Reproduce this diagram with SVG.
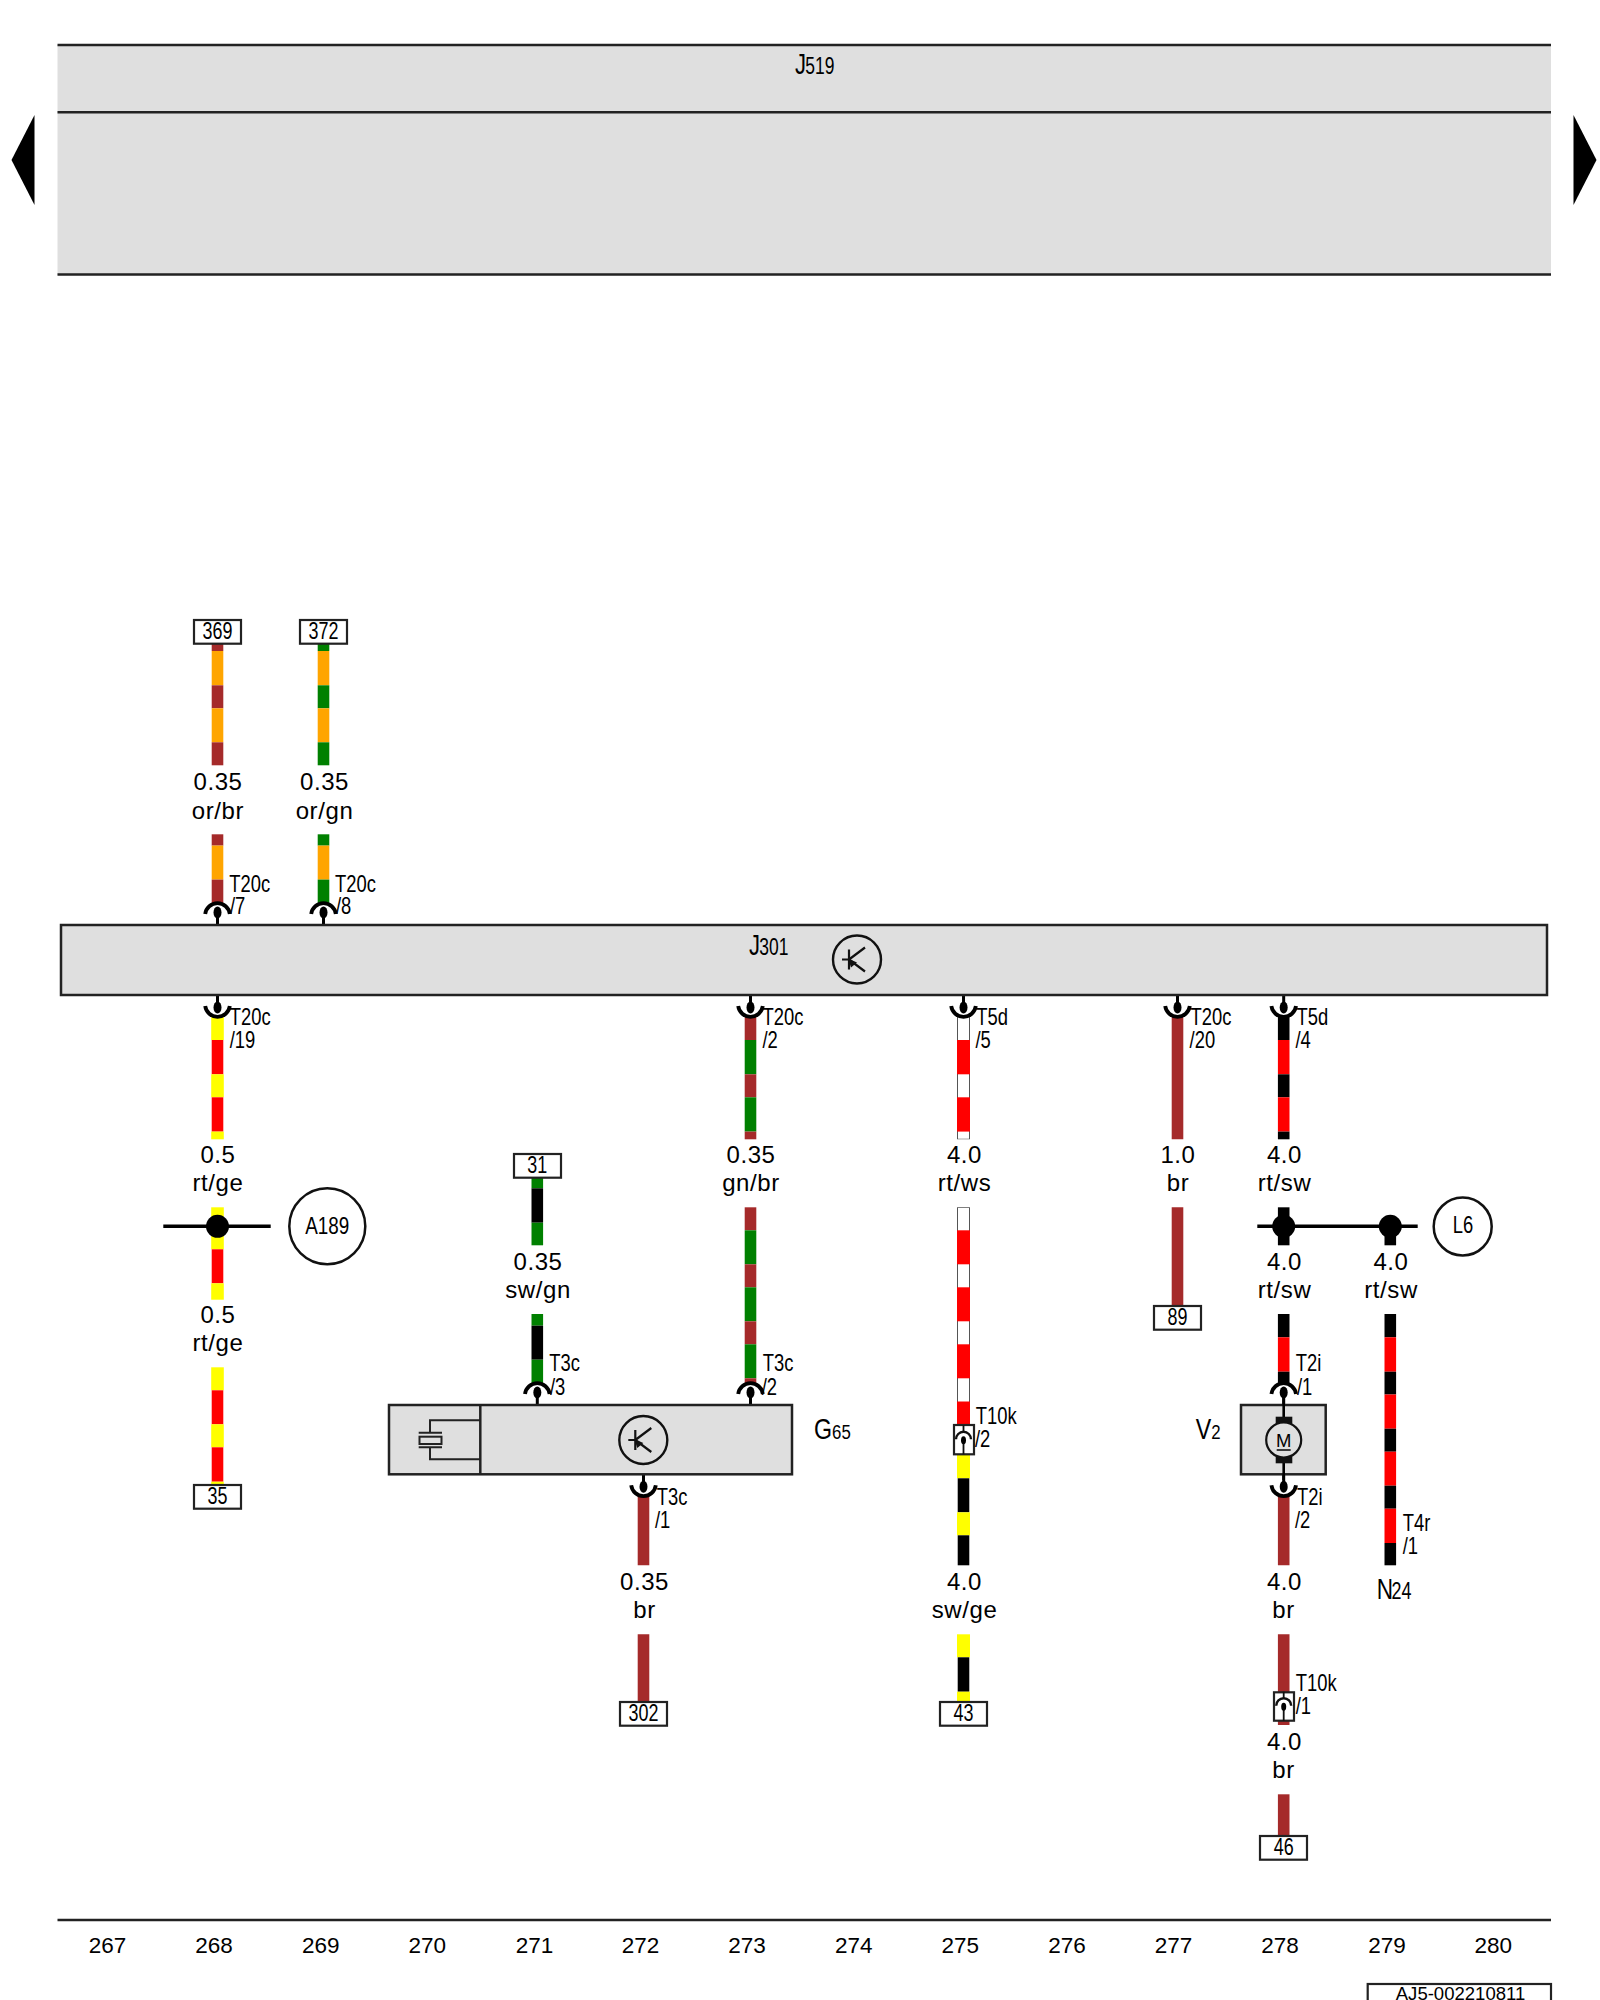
<svg xmlns="http://www.w3.org/2000/svg" xmlns:xlink="http://www.w3.org/1999/xlink" width="1600" height="2000" viewBox="0 0 1600 2000">
<style>
text{font-family:"Liberation Sans",Arial,sans-serif;fill:#000}
.lbl{font-size:24px;letter-spacing:.6px;text-anchor:middle}
.num{font-size:22.5px;text-anchor:middle}
.t{font-size:23px}
.n{font-size:23px;text-anchor:middle}
.big{font-size:29px}
.sm{font-size:21px}
.md{font-size:23px}
.box{fill:#dfdfdf;stroke:#222;stroke-width:2.5}
.ln{fill:none;stroke:#222;stroke-width:2.5}
.thin{fill:none;stroke:#222;stroke-width:2}
.tag{fill:#fff;stroke:#222;stroke-width:2.2}
.bus{fill:none;stroke:#000;stroke-width:3.5}
.wire path{fill:none;stroke-width:11.6}
.wire path.o{stroke:#ffa500}
.wire path.b{stroke:#a52a2a}
.wire path.g{stroke:#008000}
.wire path.r{stroke:#ff0000}
.wire path.y{stroke:#ffff00;stroke-width:12.6}
.wire path.k{stroke:#000}
.wire path.we{stroke:#555;stroke-width:13}
.wire path.w{stroke:#fff;stroke-width:11}
.wire path.wide{stroke-width:13}
</style>
<defs>
<g id="plug">
<path d="M-12.300-11A12.400 12.400 0 0 1 12.300-11" fill="none" stroke="#000" stroke-width="3.800"/>
<ellipse cx="0" cy="-12.500" rx="4" ry="6" fill="#000"/>
<path d="M0-8V0" stroke="#000" stroke-width="3"/>
</g>
<g id="miniplug">
<path d="M-7.500-15A7.500 7.500 0 0 1 7.500-15" fill="none" stroke="#111" stroke-width="2.400"/>
<path d="M0-29V-22M0-12V0" stroke="#111" stroke-width="1.800"/>
<ellipse cx="0" cy="-14" rx="2.500" ry="4" fill="#000"/>
</g>
<g id="transistor">
<circle r="24" fill="none" stroke="#111" stroke-width="2.400"/>
<path d="M-8-10V10M-15 0H-8M-8 0L8-12M-8 0L8 12" fill="none" stroke="#111" stroke-width="2.200"/>
<polygon points="-9,-1 0,3 -6,8" fill="#111"/>
</g>
</defs>

<g id="panel-J519">
<rect x="57.500" y="45" width="1493.500" height="230" fill="#dfdfdf"/>
<path class="ln" d="M57.500 45H1551M57.500 112.300H1551M57.500 274.500H1551"/>
<text transform="translate(795,74.300) scale(.76,1)"><tspan class="big">J</tspan><tspan class="md" dx="-1">519</tspan></text>
</g>
<polygon id="nav-left" points="34.500,115 34.500,205 11.500,160" fill="#000"/>
<polygon id="nav-right" points="1573.500,115 1573.500,205 1596.500,160" fill="#000"/>

<g id="connectors">
<g class="wire">
<path class="b" d="M217.500 643.700V651"/><path class="o" d="M217.500 651V685.300"/><path class="b" d="M217.500 685.300V708.300"/><path class="o" d="M217.500 708.300V742.300"/><path class="b" d="M217.500 742.300V765.300"/>
<path class="b" d="M217.500 834.300V845.600"/><path class="o" d="M217.500 845.600V879.600"/><path class="b" d="M217.500 879.600V903"/>
<path class="g" d="M323.500 643.700V651"/><path class="o" d="M323.500 651V685.300"/><path class="g" d="M323.500 685.300V708.300"/><path class="o" d="M323.500 708.300V742.300"/><path class="g" d="M323.500 742.300V765.300"/>
<path class="g" d="M323.500 834.300V845.600"/><path class="o" d="M323.500 845.600V879.600"/><path class="g" d="M323.500 879.600V903"/>

<path class="y" d="M217.500 1016V1040"/><path class="r" d="M217.500 1040V1074.300"/><path class="y" d="M217.500 1074.300V1097.300"/><path class="r" d="M217.500 1097.300V1131.600"/><path class="y" d="M217.500 1131.600V1139.300"/>
<path class="y" d="M217.500 1207.300V1249.300"/><path class="r" d="M217.500 1249.300V1283.300"/><path class="y" d="M217.500 1283.300V1299.700"/>
<path class="y" d="M217.500 1367.300V1390.300"/><path class="r" d="M217.500 1390.300V1424.300"/><path class="y" d="M217.500 1424.300V1447.300"/><path class="r" d="M217.500 1447.300V1481.700"/><path class="y" d="M217.500 1481.700V1485"/>

<path class="g" d="M537.300 1178V1188.300"/><path class="k" d="M537.300 1188.300V1222.700"/><path class="g" d="M537.300 1222.700V1245.300"/>
<path class="g" d="M537.300 1314V1325.700"/><path class="k" d="M537.300 1325.700V1359.700"/><path class="g" d="M537.300 1359.700V1383"/>

<path class="b" d="M643.500 1495V1565.300"/><path class="b" d="M643.500 1634.300V1702"/>

<path class="b" d="M750.500 1016V1040"/><path class="g" d="M750.500 1040V1074.300"/><path class="b" d="M750.500 1074.300V1097.300"/><path class="g" d="M750.500 1097.300V1131.600"/><path class="b" d="M750.500 1131.600V1139.300"/>
<path class="b" d="M750.500 1207.300V1230.300"/><path class="g" d="M750.500 1230.300V1264.300"/><path class="b" d="M750.500 1264.300V1287.300"/><path class="g" d="M750.500 1287.300V1321.300"/><path class="b" d="M750.500 1321.300V1344.300"/><path class="g" d="M750.500 1344.300V1378.300"/><path class="b" d="M750.500 1378.300V1383"/>

<path class="we" d="M963.500 1016V1139.300"/><path class="w" d="M963.500 1016V1138.700"/><path class="r wide" d="M963.500 1040V1074.300"/><path class="r wide" d="M963.500 1097.300V1131.600"/>
<path class="we" d="M963.500 1207.300V1425"/><path class="w" d="M963.500 1208V1425"/><path class="r wide" d="M963.500 1230.300V1264.300"/><path class="r wide" d="M963.500 1287.300V1321.300"/><path class="r wide" d="M963.500 1344.300V1378.300"/><path class="r wide" d="M963.500 1401.500V1425"/>
<path class="y wide" d="M963.500 1454V1478.300"/><path class="k" d="M963.500 1478.300V1512.300"/><path class="y wide" d="M963.500 1512.300V1535.300"/><path class="k" d="M963.500 1535.300V1565.300"/>
<path class="y wide" d="M963.500 1634.300V1657.300"/><path class="k" d="M963.500 1657.300V1691.700"/><path class="y wide" d="M963.500 1691.700V1702"/>

<path class="b" d="M1177.500 1016V1139.300"/><path class="b" d="M1177.500 1207.300V1306"/>

<path class="k" d="M1283.700 1016V1040"/><path class="r" d="M1283.700 1040V1074.300"/><path class="k" d="M1283.700 1074.300V1097.300"/><path class="r" d="M1283.700 1097.300V1131.600"/><path class="k" d="M1283.700 1131.600V1139.300"/>
<path class="k" d="M1283.700 1207.300V1245.300"/>
<path class="k" d="M1283.700 1314V1337.300"/><path class="r" d="M1283.700 1337.300V1371.700"/><path class="k" d="M1283.700 1371.700V1383"/>
<path class="b" d="M1283.700 1495V1565.300"/>
<path class="b" d="M1283.700 1634.300V1725"/>
<path class="b" d="M1283.700 1794.300V1836"/>

<path class="k" d="M1390.300 1226V1245.300"/>
<path class="k" d="M1390.300 1314V1337.300"/><path class="r" d="M1390.300 1337.300V1371.700"/><path class="k" d="M1390.300 1371.700V1394.500"/><path class="r" d="M1390.300 1394.500V1428.700"/><path class="k" d="M1390.300 1428.700V1451.700"/><path class="r" d="M1390.300 1451.700V1485.700"/><path class="k" d="M1390.300 1485.700V1508.700"/><path class="r" d="M1390.300 1508.700V1543"/><path class="k" d="M1390.300 1543V1565.300"/>
</g>
<path class="bus" d="M163.300 1226.300H270.700"/>
<path class="bus" d="M1257.300 1226.300H1417.700"/>
<use xlink:href="#plug" href="#plug" transform="translate(217.500,925)"/>
<use xlink:href="#plug" href="#plug" transform="translate(323.500,925)"/>
<use xlink:href="#plug" href="#plug" transform="translate(217.500,995) scale(1,-1)"/>
<use xlink:href="#plug" href="#plug" transform="translate(750.500,995) scale(1,-1)"/>
<use xlink:href="#plug" href="#plug" transform="translate(963.500,995) scale(1,-1)"/>
<use xlink:href="#plug" href="#plug" transform="translate(1177.500,995) scale(1,-1)"/>
<use xlink:href="#plug" href="#plug" transform="translate(1283.700,995) scale(1,-1)"/>
<use xlink:href="#plug" href="#plug" transform="translate(537.300,1405)"/>
<use xlink:href="#plug" href="#plug" transform="translate(750.500,1405)"/>
<use xlink:href="#plug" href="#plug" transform="translate(1283.700,1405)"/>
<use xlink:href="#plug" href="#plug" transform="translate(643.500,1474.300) scale(1,-1)"/>
<use xlink:href="#plug" href="#plug" transform="translate(1283.700,1474.300) scale(1,-1)"/>
</g>

<g id="J301">
<rect class="box" x="61" y="925" width="1486" height="70"/>
<text transform="translate(749,955) scale(.76,1)"><tspan class="big">J</tspan><tspan class="md" dx="-1">301</tspan></text>
<use xlink:href="#transistor" href="#transistor" transform="translate(857,959.500)"/>
</g>

<g id="G65">
<rect class="box" x="389" y="1405" width="403" height="69.300"/>
<path class="ln" d="M480.300 1405V1474.300"/>
<path class="thin" d="M480.300 1420.300H430V1432.700M480.300 1459.300H430V1447.300M418.700 1432.700H442M418.700 1447.300H442"/>
<rect class="thin" x="419.500" y="1436.700" width="22" height="7.300"/>
<use xlink:href="#transistor" href="#transistor" transform="translate(643.300,1440)"/>
<text transform="translate(814,1439.300) scale(.8,1)"><tspan class="big">G</tspan><tspan class="sm">65</tspan></text>
</g>

<g id="V2">
<rect class="box" x="1241" y="1405" width="84.700" height="69.300"/>
<path d="M1283.700 1398V1417M1283.700 1463V1480" stroke="#000" stroke-width="2.600"/>
<rect x="1275.700" y="1416.700" width="16.600" height="46.600" fill="#111"/>
<circle cx="1283.700" cy="1440" r="17.500" fill="#dfdfdf" stroke="#111" stroke-width="2.200"/>
<text class="n" style="font-size:18.500px" x="1283.700" y="1446.700">M</text>
<path d="M1276.700 1450H1290.700" stroke="#111" stroke-width="1.600"/>
<text transform="translate(1195.700,1439.300) scale(.8,1)"><tspan class="big">V</tspan><tspan class="sm">2</tspan></text>
</g>

<g id="splice-A189">
<circle cx="217.500" cy="1226.300" r="11.500" fill="#000"/>
<circle cx="327.300" cy="1226.300" r="38" fill="#fff" stroke="#111" stroke-width="2.500"/>
<text class="n" transform="translate(327.300,1233.800) scale(.82,1)">A189</text>
</g>
<g id="splice-L6">
<circle cx="1283.700" cy="1226.300" r="11.500" fill="#000"/>
<circle cx="1390.300" cy="1226.300" r="11.500" fill="#000"/>
<circle cx="1462.700" cy="1226.500" r="29" fill="#fff" stroke="#111" stroke-width="2.500"/>
<text class="n" transform="translate(1463,1233) scale(.8,1)">L6</text>
</g>

<g id="T10k-2">
<rect class="tag" x="954" y="1425" width="20" height="29.300"/>
<use xlink:href="#miniplug" href="#miniplug" transform="translate(963.500,1454.300)"/>
</g>
<g id="T10k-1">
<rect class="tag" x="1274" y="1692.300" width="20" height="28.400"/>
<use xlink:href="#miniplug" href="#miniplug" transform="translate(1283.700,1720.700)"/>
</g>

<g id="ref-369"><rect class="tag" x="194" y="620" width="47" height="23.700"/><text class="n" transform="translate(217.500,639.300) scale(.78,1)">369</text></g>
<g id="ref-372"><rect class="tag" x="300" y="620" width="47" height="23.700"/><text class="n" transform="translate(323.500,639.300) scale(.78,1)">372</text></g>
<g id="ref-35"><rect class="tag" x="194" y="1485" width="47" height="23.700"/><text class="n" transform="translate(217.500,1504.300) scale(.78,1)">35</text></g>
<g id="ref-31"><rect class="tag" x="514" y="1154" width="47" height="23.700"/><text class="n" transform="translate(537.300,1173.300) scale(.78,1)">31</text></g>
<g id="ref-302"><rect class="tag" x="620" y="1702" width="47" height="23.700"/><text class="n" transform="translate(643.500,1721.300) scale(.78,1)">302</text></g>
<g id="ref-43"><rect class="tag" x="940" y="1702" width="47" height="23.700"/><text class="n" transform="translate(963.500,1721.300) scale(.78,1)">43</text></g>
<g id="ref-89"><rect class="tag" x="1154" y="1306" width="47" height="23.700"/><text class="n" transform="translate(1177.500,1325.300) scale(.78,1)">89</text></g>
<g id="ref-46"><rect class="tag" x="1260" y="1836" width="47" height="23.700"/><text class="n" transform="translate(1283.700,1855.300) scale(.78,1)">46</text></g>

<g id="wire-labels">
<text class="lbl" x="218" y="790">0.35</text><text class="lbl" x="218" y="818.500">or/br</text>
<text class="lbl" x="324.500" y="790">0.35</text><text class="lbl" x="324.500" y="818.500">or/gn</text>
<text class="lbl" x="218" y="1163">0.5</text><text class="lbl" x="218" y="1191.300">rt/ge</text>
<text class="lbl" x="218" y="1323">0.5</text><text class="lbl" x="218" y="1351.300">rt/ge</text>
<text class="lbl" x="538" y="1270">0.35</text><text class="lbl" x="538" y="1298">sw/gn</text>
<text class="lbl" x="751" y="1163">0.35</text><text class="lbl" x="751" y="1191.300">gn/br</text>
<text class="lbl" x="964.500" y="1163">4.0</text><text class="lbl" x="964.500" y="1191.300">rt/ws</text>
<text class="lbl" x="1178" y="1163">1.0</text><text class="lbl" x="1178" y="1191.300">br</text>
<text class="lbl" x="1284.500" y="1163">4.0</text><text class="lbl" x="1284.500" y="1191.300">rt/sw</text>
<text class="lbl" x="1284.500" y="1270">4.0</text><text class="lbl" x="1284.500" y="1298">rt/sw</text>
<text class="lbl" x="1391" y="1270">4.0</text><text class="lbl" x="1391" y="1298">rt/sw</text>
<text class="lbl" x="644.500" y="1590">0.35</text><text class="lbl" x="644.500" y="1618">br</text>
<text class="lbl" x="964.500" y="1590">4.0</text><text class="lbl" x="964.500" y="1618">sw/ge</text>
<text class="lbl" x="1284.500" y="1590">4.0</text><text class="lbl" x="1283.500" y="1618">br</text>
<text class="lbl" x="1284.500" y="1750">4.0</text><text class="lbl" x="1283.500" y="1778">br</text>
</g>

<g id="pin-labels">
<text class="t" transform="translate(229.300,891.700) scale(.8,1)">T20c</text><text class="t" transform="translate(230,914) scale(.8,1)">/7</text>
<text class="t" transform="translate(335,891.700) scale(.8,1)">T20c</text><text class="t" transform="translate(336,914) scale(.8,1)">/8</text>
<text class="t" transform="translate(229.700,1025) scale(.8,1)">T20c</text><text class="t" transform="translate(229.700,1047.700) scale(.8,1)">/19</text>
<text class="t" transform="translate(762.500,1025) scale(.8,1)">T20c</text><text class="t" transform="translate(762.500,1047.700) scale(.8,1)">/2</text>
<text class="t" transform="translate(976.300,1025) scale(.8,1)">T5d</text><text class="t" transform="translate(975.500,1047.700) scale(.8,1)">/5</text>
<text class="t" transform="translate(1190.600,1025) scale(.8,1)">T20c</text><text class="t" transform="translate(1189.600,1047.700) scale(.8,1)">/20</text>
<text class="t" transform="translate(1296.500,1025) scale(.8,1)">T5d</text><text class="t" transform="translate(1295.500,1047.700) scale(.8,1)">/4</text>
<text class="t" transform="translate(549.300,1371) scale(.8,1)">T3c</text><text class="t" transform="translate(550,1394.500) scale(.8,1)">/3</text>
<text class="t" transform="translate(762.700,1371) scale(.8,1)">T3c</text><text class="t" transform="translate(761.700,1394.500) scale(.8,1)">/2</text>
<text class="t" transform="translate(656.700,1505) scale(.8,1)">T3c</text><text class="t" transform="translate(655,1528) scale(.8,1)">/1</text>
<text class="t" transform="translate(975.700,1424.300) scale(.8,1)">T10k</text><text class="t" transform="translate(975,1447) scale(.8,1)">/2</text>
<text class="t" transform="translate(1295.700,1371) scale(.8,1)">T2i</text><text class="t" transform="translate(1297,1394.500) scale(.8,1)">/1</text>
<text class="t" transform="translate(1297,1505) scale(.8,1)">T2i</text><text class="t" transform="translate(1295,1528) scale(.8,1)">/2</text>
<text class="t" transform="translate(1402.700,1531) scale(.8,1)">T4r</text><text class="t" transform="translate(1402.700,1554) scale(.8,1)">/1</text>
<text class="t" transform="translate(1295.700,1690.500) scale(.8,1)">T10k</text><text class="t" transform="translate(1295.700,1713.500) scale(.8,1)">/1</text>
<text transform="translate(1376.700,1598.500) scale(.78,1)"><tspan class="big">N</tspan><tspan class="md" dx="-2">24</tspan></text>
</g>

<g id="footer">
<path class="ln" d="M57.500 1920H1551"/>
<text class="num" x="107.500" y="1953.300">267</text>
<text class="num" x="214" y="1953.300">268</text>
<text class="num" x="320.700" y="1953.300">269</text>
<text class="num" x="427.300" y="1953.300">270</text>
<text class="num" x="534.500" y="1953.300">271</text>
<text class="num" x="640.500" y="1953.300">272</text>
<text class="num" x="747" y="1953.300">273</text>
<text class="num" x="853.700" y="1953.300">274</text>
<text class="num" x="960.300" y="1953.300">275</text>
<text class="num" x="1067" y="1953.300">276</text>
<text class="num" x="1173.500" y="1953.300">277</text>
<text class="num" x="1280" y="1953.300">278</text>
<text class="num" x="1387" y="1953.300">279</text>
<text class="num" x="1493.300" y="1953.300">280</text>
<rect class="tag" x="1367.700" y="1984" width="183.300" height="30"/>
<text class="n" style="font-size:18px" transform="translate(1460.500,1999.500) scale(1.03,1)">AJ5-002210811</text>
</g>
</svg>
